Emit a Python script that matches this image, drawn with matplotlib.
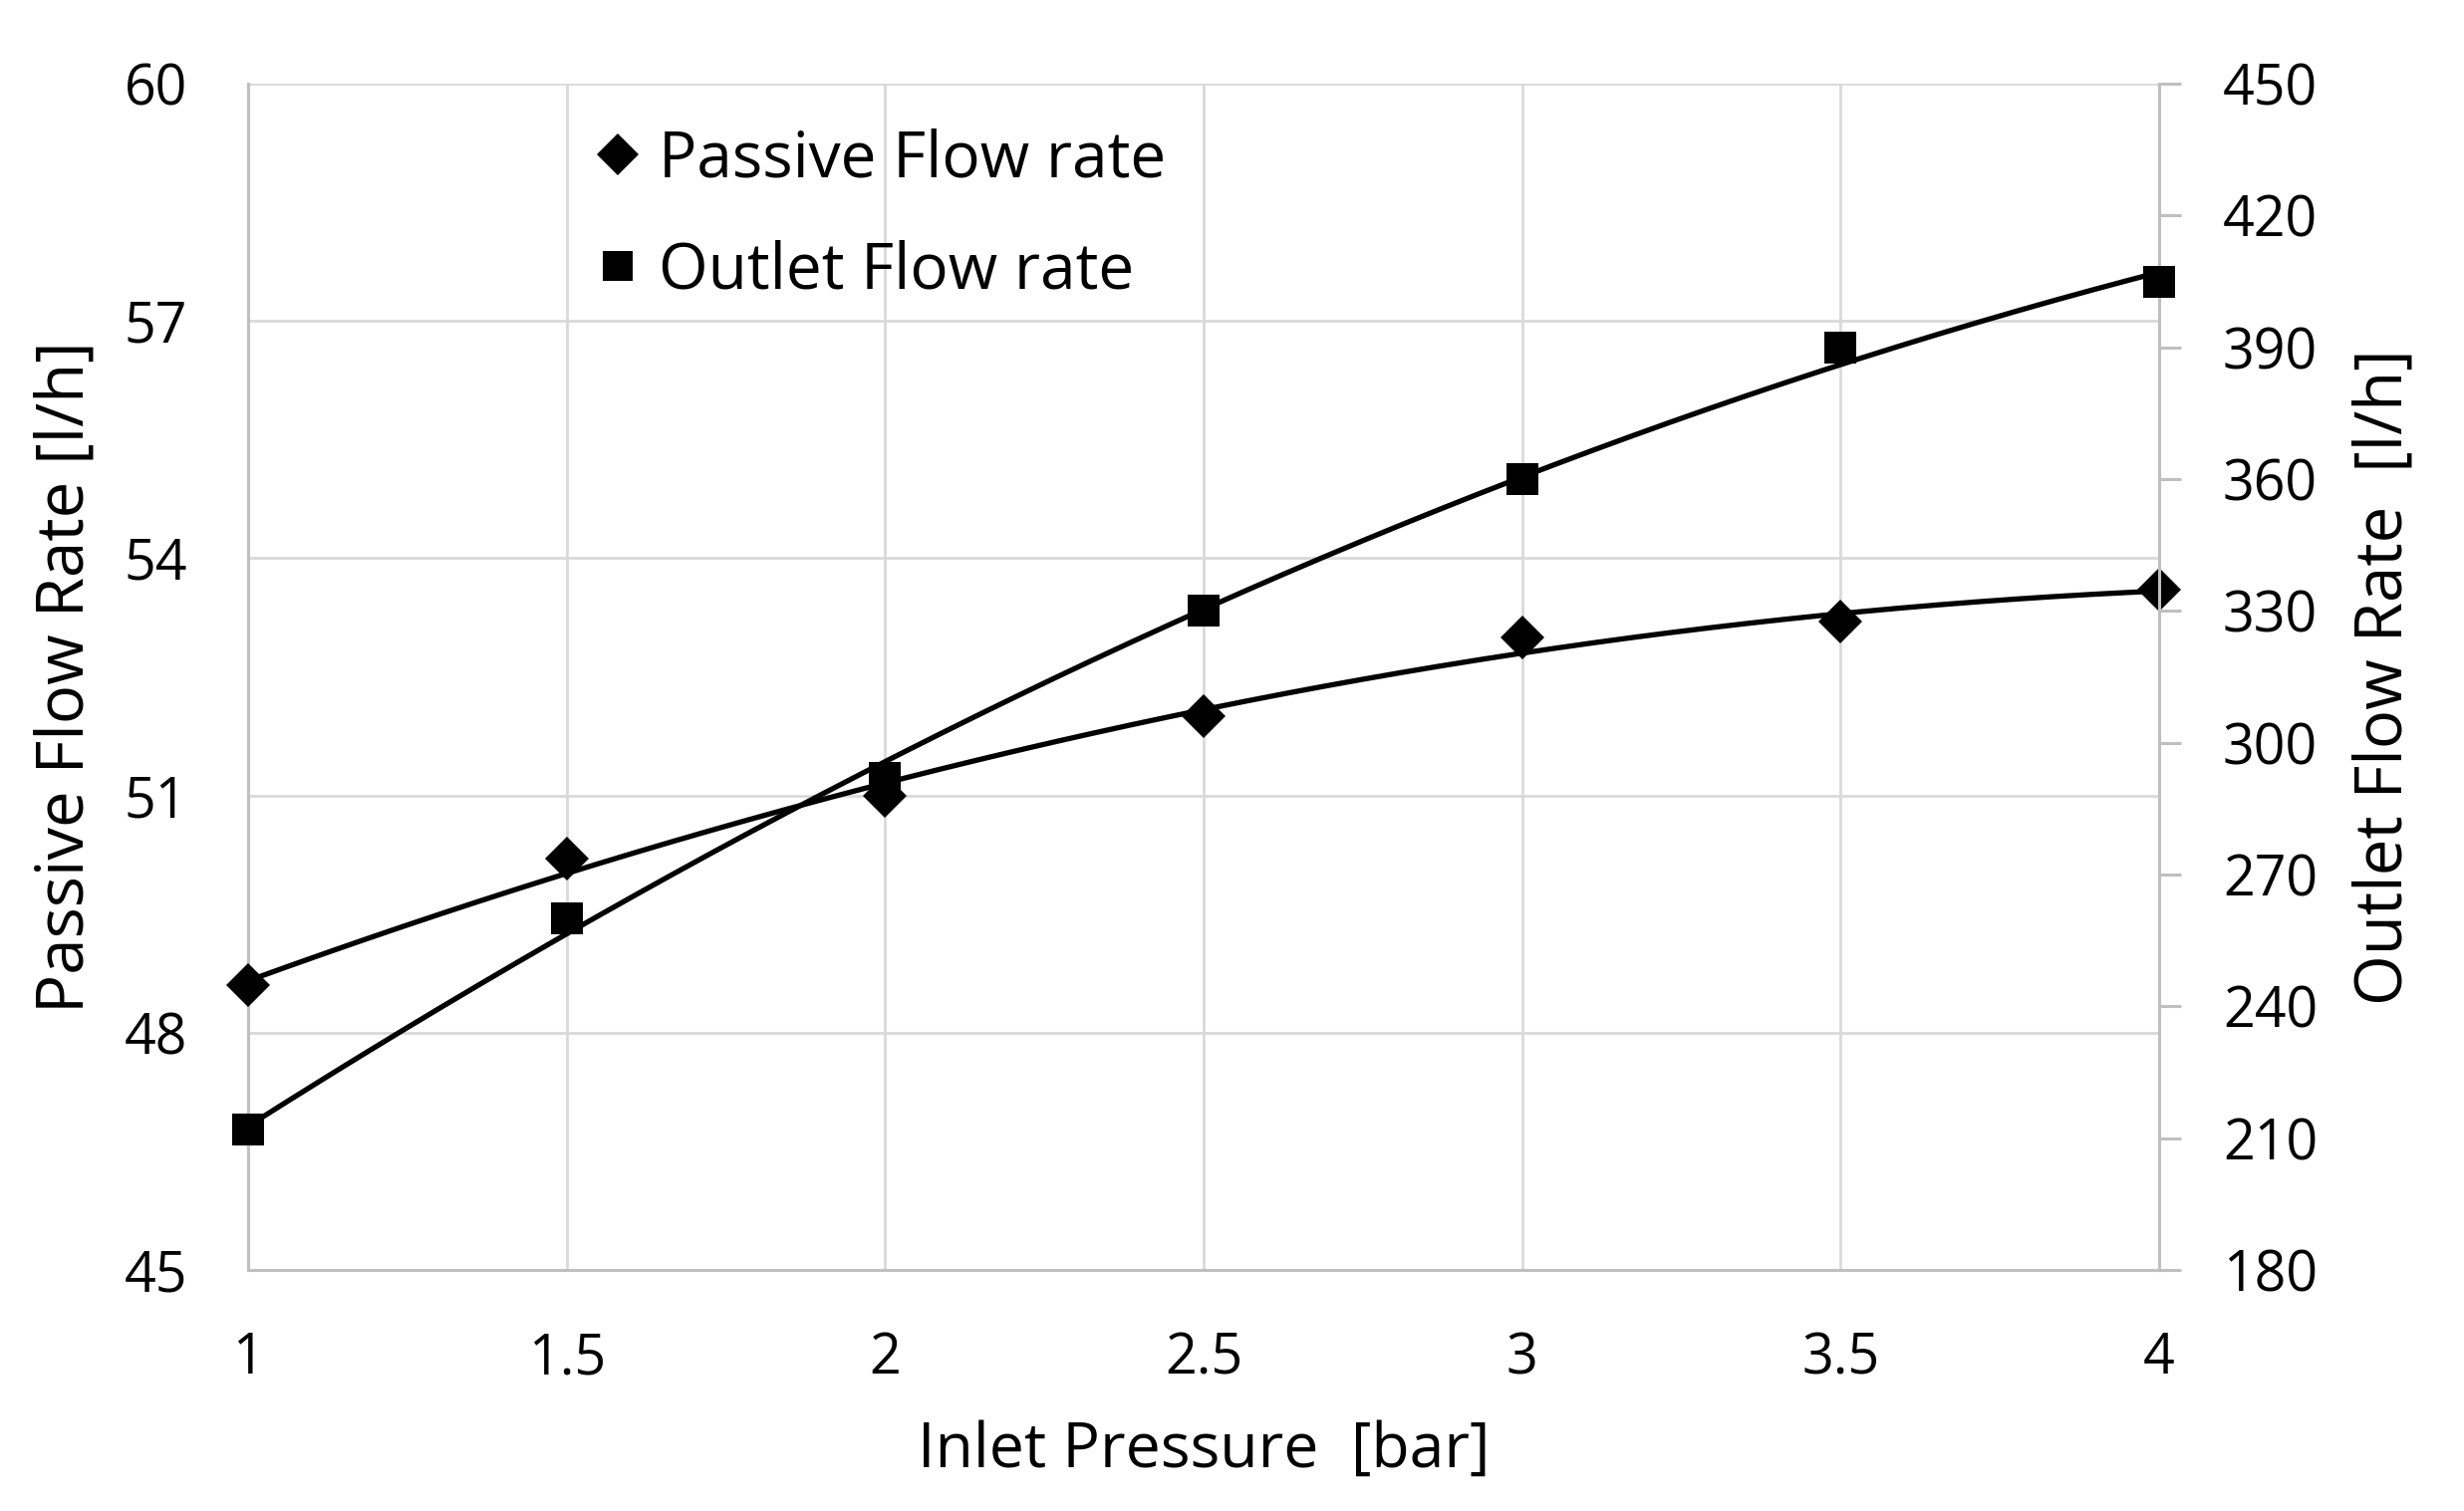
import matplotlib
matplotlib.use("Agg")
import matplotlib.pyplot as plt
import numpy as np
from matplotlib.lines import Line2D

plt.rcParams["font.family"] = ["Open Sans", "DejaVu Sans"]

# values
inlet_pressure = [1.0, 1.5, 2.0, 2.5, 3.0, 3.5, 4.0]        # bar
passive_flow = [48.6, 50.2, 51.0, 52.0, 53.0, 53.2, 53.6]   # l/h, left axis
outlet_flow = [212, 260, 292, 330, 360, 390, 405]           # l/h, right axis

x_ticks = [1, 1.5, 2, 2.5, 3, 3.5, 4]
left_ticks = [45, 48, 51, 54, 57, 60]
right_ticks = [180, 210, 240, 270, 300, 330, 360, 390, 420, 450]

GRID = "#d9d9d9"
SPINE = "#bfbfbf"

fig = plt.figure(figsize=(24.73, 15.17), dpi=100)
ax = fig.add_axes([0.1007, 0.1595, 0.7756, 0.7851])
ax2 = ax.twinx()

# polynomial (2nd order) trendlines, like the spreadsheet's
xs = np.linspace(min(inlet_pressure), max(inlet_pressure), 200)
p_fit = np.polyfit(inlet_pressure, passive_flow, 2)
o_fit = np.polyfit(inlet_pressure, outlet_flow, 2)

ax.plot(xs, np.polyval(p_fit, xs), color="black", lw=3.8, zorder=3, clip_on=False)
ax.plot(inlet_pressure, passive_flow, linestyle="none", marker="D", ms=22,
        color="black", mew=0, zorder=4, clip_on=False)
ax2.plot(xs, np.polyval(o_fit, xs), color="black", lw=3.8, zorder=3, clip_on=False)
ax2.plot(inlet_pressure, outlet_flow, linestyle="none", marker="s", ms=23,
         color="black", mew=0, zorder=4, clip_on=False)

ax.set_xlim(1, 4)
ax.set_ylim(45, 60)
ax2.set_ylim(180, 450)
ax.set_xticks(x_ticks)
ax.set_xticklabels([f"{v:g}" for v in x_ticks])
ax.set_yticks(left_ticks)
ax2.set_yticks(right_ticks)

ax.grid(True, color=GRID, lw=2)
ax.set_axisbelow(True)
ax2.set_axisbelow(True)

for a in (ax, ax2):
    for s in a.spines.values():
        s.set_visible(False)
ax.spines["bottom"].set_visible(True)
ax.spines["bottom"].set_color(SPINE)
ax.spines["bottom"].set_linewidth(2.2)
ax.spines["left"].set_visible(True)
ax.spines["left"].set_color(SPINE)
ax.spines["left"].set_linewidth(2.2)
ax2.spines["right"].set_visible(True)
ax2.spines["right"].set_color(SPINE)
ax2.spines["right"].set_linewidth(2.2)

ax.tick_params(axis="x", length=0, pad=44, labelsize=40)
ax.tick_params(axis="y", length=0, pad=44, labelsize=40)
ax2.tick_params(axis="y", length=16, width=2.2, color=SPINE, pad=30, labelsize=40)

ax.set_xlabel("Inlet Pressure  [bar]", fontsize=45)
ax.xaxis.set_label_coords(0.5, -0.126)
ax.set_ylabel("Passive Flow Rate [l/h]", fontsize=47)
ax.yaxis.set_label_coords(-0.078, 0.5)
ax2.set_ylabel("Outlet Flow Rate  [l/h]", fontsize=47)
ax2.yaxis.set_label_coords(1.101, 0.5)

handles = [
    Line2D([], [], linestyle="none", marker="D", ms=21, color="black", mew=0),
    Line2D([], [], linestyle="none", marker="s", ms=21, color="black", mew=0),
]
ax.legend(handles, ["Passive Flow rate", "Outlet Flow rate"], loc="upper left",
          bbox_to_anchor=(0.16, 1.0), frameon=False, fontsize=46,
          handlelength=0.6, handletextpad=0.35, labelspacing=0.75,
          borderaxespad=0.3)

fig.savefig("out.png", dpi=100)
